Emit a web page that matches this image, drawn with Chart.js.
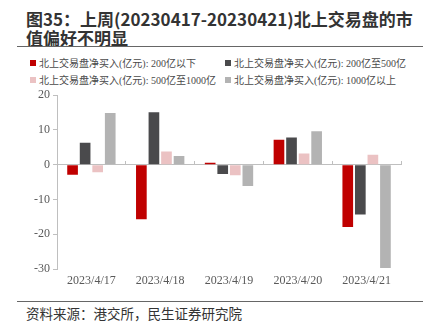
<!DOCTYPE html>
<html>
<head>
<meta charset="utf-8">
<script src="https://cdn.jsdelivr.net/npm/chart.js@4"></script>
<style>
  body { margin: 0; width: 430px; height: 325px; background: #fff; position: relative; overflow: hidden; }
  .title { position: absolute; left: 26px; top: 9px; width: 400px; font: bold 17px "Noto Sans CJK SC", sans-serif; line-height: 19px; color: #333; }
  .rule { position: absolute; left: 17px; width: 406px; height: 0; border-top: 1.5px solid #666; }
  .legend { position: absolute; left: 30px; top: 55px; width: 400px; font: 10px "Liberation Serif", "Noto Sans CJK SC", serif; color: #4a4a4a; }
  .legend .item { position: absolute; white-space: nowrap; }
  .legend .box { display: inline-block; width: 6px; height: 6px; margin-right: 3px; vertical-align: 1px; }
  .source { position: absolute; left: 26px; top: 303px; font: 13.5px "Noto Sans CJK SC", sans-serif; color: #333; }
  #wrap { position: absolute; left: 0; top: 85px; width: 430px; height: 205px; }
</style>
</head>
<body>
<div class="title">图35：上周(20230417-20230421)北上交易盘的市<br>值偏好不明显</div>
<div class="rule" style="top:46px"></div>
<div class="legend" id="legend"></div>
<div id="wrap"><canvas id="chart"></canvas></div>
<div class="rule" style="top:301px"></div>
<div class="source">资料来源：港交所，民生证券研究院</div>
<script>
const categories = ['2023/4/17', '2023/4/18', '2023/4/19', '2023/4/20', '2023/4/21'];
const seriesNames = [
  '北上交易盘净买入(亿元): 200亿以下',
  '北上交易盘净买入(亿元): 200亿至500亿',
  '北上交易盘净买入(亿元): 500亿至1000亿',
  '北上交易盘净买入(亿元): 1000亿以上'
];
const under200 = [-2.9, -15.7, 0.6, 7.2, -17.9];
const from200to500 = [6.3, 15.1, -2.7, 7.8, -14.3];
const from500to1000 = [-2.2, 3.8, -3.0, 3.2, 2.9];
const over1000 = [14.9, 2.5, -6.1, 9.6, -29.7];
const yTicks = [20, 10, 0, -10, -20, -30];
const colors = ['#C00000', '#4A4A4C', '#EBC2C3', '#B3B3B3'];

const values = [under200, from200to500, from500to1000, over1000];

// legend: two columns, two rows
const legend = document.getElementById('legend');
seriesNames.forEach((name, i) => {
  const el = document.createElement('div');
  el.className = 'item';
  el.style.left = (i % 2 === 0 ? 0 : 195) + 'px';
  el.style.top = (i < 2 ? 0 : 17) + 'px';
  el.innerHTML = '<span class="box" style="background:' + colors[i] + '"></span>' + name;
  legend.appendChild(el);
});

const axisGray = '#BFBFBF';
const tickFont = { family: 'Liberation Serif', size: 12 };

new Chart(document.getElementById('chart'), {
  type: 'bar',
  data: {
    labels: categories,
    datasets: values.map((v, i) => ({
      label: seriesNames[i],
      data: v,
      backgroundColor: colors[i],
      categoryPercentage: 0.73,
      barPercentage: 0.85
    }))
  },
  options: {
    responsive: true,
    maintainAspectRatio: false,
    animation: false,
    layout: { padding: { top: 9, right: 29, left: 0, bottom: 0 } },
    plugins: { legend: { display: false }, tooltip: { enabled: false } },
    scales: {
      x: {
        grid: { display: false, drawTicks: false },
        border: { display: false },
        ticks: { font: tickFont, color: '#595959', padding: 5, maxRotation: 0 },
        afterFit: s => { s.height = 21; }
      },
      x2: {
        type: 'category',
        labels: categories,
        position: { y: 0 },
        offset: true,
        grid: { offset: true, drawOnChartArea: false, drawTicks: true, tickLength: -4, color: axisGray },
        border: { display: false },
        ticks: { display: false }
      },
      y: {
        min: -30,
        max: 20,
        afterBuildTicks: s => { s.ticks = yTicks.map(v => ({ value: v })); },
        grid: {
          color: c => (c.tick && c.tick.value === 0 ? axisGray : 'transparent'),
          tickColor: axisGray,
          tickLength: 4
        },
        border: { display: true, color: axisGray },
        ticks: { font: tickFont, color: '#595959', padding: 3 },
        afterFit: s => { s.width = 57; }
      }
    }
  }
});
</script>
</body>
</html>
